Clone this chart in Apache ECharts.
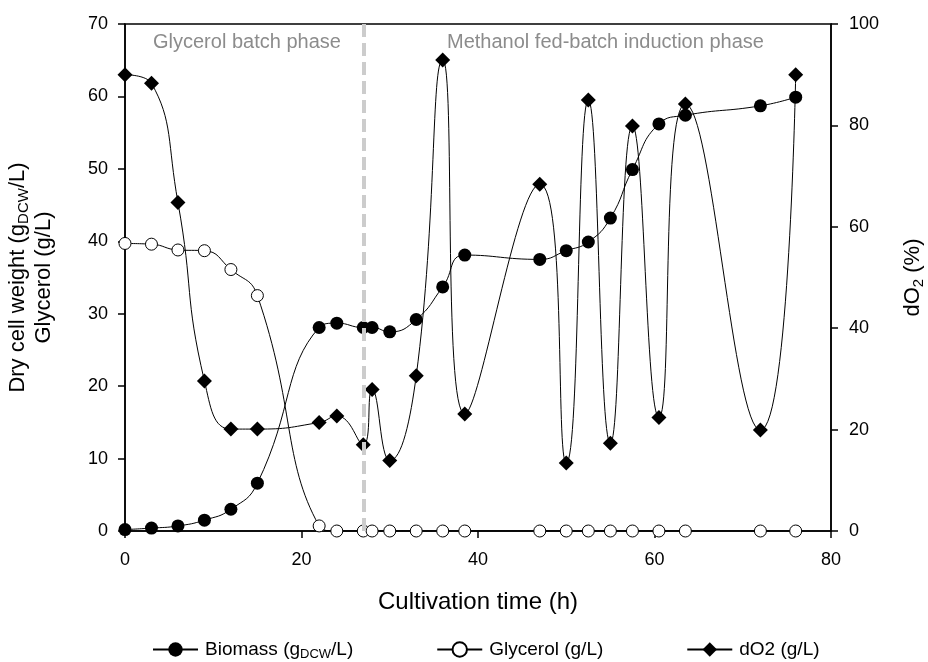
<!DOCTYPE html>
<html>
<head>
<meta charset="utf-8">
<script src="https://cdn.jsdelivr.net/npm/echarts@6/dist/echarts.min.js"></script>
<style>html,body{margin:0;padding:0;background:#fff;}#c{width:928px;height:662px;}</style>
</head>
<body>
<div id="c"></div>
<script>
// Data
var biomassTime = [0, 3, 6, 9, 12, 15, 22, 24, 27, 28, 30, 33, 36, 38.5, 47, 50, 52.5, 55, 57.5, 60.5, 63.5, 72, 76];
var biomassValues = [0.2, 0.4, 0.7, 1.5, 3.0, 6.6, 28.1, 28.7, 28.1, 28.1, 27.5, 29.2, 33.7, 38.1, 37.5, 38.7, 39.9, 43.2, 49.9, 56.2, 57.4, 58.7, 59.9];
var glycerolTime = [0, 3, 6, 9, 12, 15, 22, 24, 27, 28, 30, 33, 36, 38.5, 47, 50, 52.5, 55, 57.5, 60.5, 63.5, 72, 76];
var glycerolValues = [39.7, 39.6, 38.8, 38.7, 36.1, 32.5, 0.7, 0, 0, 0, 0, 0, 0, 0, 0, 0, 0, 0, 0, 0, 0, 0, 0];
var dO2Time = [0, 3, 6, 9, 12, 15, 22, 24, 27, 28, 30, 33, 36, 38.5, 47, 50, 52.5, 55, 57.5, 60.5, 63.5, 72, 76];
var dO2Values = [90, 88.3, 64.8, 29.6, 20.1, 20.1, 21.4, 22.7, 17.0, 27.9, 13.9, 30.6, 92.9, 23.1, 68.4, 13.4, 85.0, 17.3, 79.9, 22.4, 84.2, 19.9, 90];
var phaseSwitchTime = 27;
var xTicks = {min: 0, max: 80, interval: 20};
var yLeftTicks = {min: 0, max: 70, interval: 10};
var yRightTicks = {min: 0, max: 100, interval: 20};

function pairs(xs, ys) { return xs.map(function (x, i) { return [x, ys[i]]; }); }

var FONT = 'Liberation Sans, Arial, sans-serif';
var subRich = {
  a: {fontSize: 22, fontFamily: FONT, color: '#000', lineHeight: 26},
  s: {fontSize: 15, fontFamily: FONT, color: '#000', lineHeight: 14, verticalAlign: 'bottom'}
};
var legendRich = {
  a: {fontSize: 19, fontFamily: FONT, color: '#000', lineHeight: 22},
  s: {fontSize: 13, fontFamily: FONT, color: '#000', lineHeight: 12, verticalAlign: 'bottom'}
};

var chart = echarts.init(document.getElementById('c'), null, {renderer: 'canvas'});
var axisCommon = {
  axisLine: {show: true, lineStyle: {color: '#000', width: 1.5}},
  axisTick: {show: true, inside: false, length: 7, lineStyle: {color: '#000', width: 1.5}},
  splitLine: {show: false}
};

chart.setOption({
  animation: false,
  backgroundColor: '#fff',
  grid: {left: 125, right: 97, top: 24, bottom: 131, outerBoundsMode: 'none', containLabel: false,
    show: true, borderColor: '#000', borderWidth: 1.5, backgroundColor: 'transparent'},
  xAxis: Object.assign({}, axisCommon, {
    type: 'value', min: xTicks.min, max: xTicks.max, interval: xTicks.interval,
    name: 'Cultivation time (h)', nameLocation: 'middle', nameGap: 59,
    nameTextStyle: {fontSize: 24, fontFamily: FONT, color: '#000'},
    axisLabel: {color: '#000', fontSize: 18, fontFamily: FONT, margin: 20}
  }),
  yAxis: [
    Object.assign({}, axisCommon, {
      type: 'value', position: 'left', min: yLeftTicks.min, max: yLeftTicks.max, interval: yLeftTicks.interval,
      name: '{a|Dry cell weight (g}{s|DCW}{a|/L)}\n{a|Glycerol (g/L)}',
      nameLocation: 'middle', nameRotate: 90, nameGap: 68,
      nameTextStyle: {rich: subRich, align: 'center'},
      axisLabel: {color: '#000', fontSize: 18, fontFamily: FONT, margin: 17}
    }),
    Object.assign({}, axisCommon, {
      type: 'value', position: 'right', min: yRightTicks.min, max: yRightTicks.max, interval: yRightTicks.interval,
      name: '{a|dO}{s|2}{a| (%)}',
      nameLocation: 'middle', nameRotate: 90, nameGap: 69,
      nameTextStyle: {rich: subRich},
      axisLabel: {color: '#000', fontSize: 18, fontFamily: FONT, margin: 18}
    })
  ],
  legend: {
    top: 640, left: 152, padding: 0, itemWidth: 45, itemHeight: 18, itemGap: 83,
    data: ['Biomass', 'Glycerol', 'dO2'],
    formatter: function (n) {
      if (n === 'Biomass') return '{a|Biomass (g}{s|DCW}{a|/L)}';
      if (n === 'Glycerol') return '{a|Glycerol (g/L)}';
      return '{a|dO2 (g/L)}';
    },
    textStyle: {rich: legendRich, padding: [0, 0, 0, 2]}
  },
  graphic: [
    {type: 'text', left: 153, top: 32, style: {text: 'Glycerol batch phase', fill: '#8c8c8c', font: '20px ' + FONT}},
    {type: 'text', left: 447, top: 32, style: {text: 'Methanol fed-batch induction phase', fill: '#8c8c8c', font: '20px ' + FONT}}
  ],
  series: [
    {
      name: 'Biomass', type: 'line', yAxisIndex: 0, smooth: true, data: pairs(biomassTime, biomassValues),
      symbol: 'circle', symbolSize: 13, lineStyle: {color: '#000', width: 1}, itemStyle: {color: '#000'}, z: 3
    },
    {
      name: 'Glycerol', type: 'line', yAxisIndex: 0, smooth: true, data: pairs(glycerolTime, glycerolValues),
      symbol: 'circle', symbolSize: 12, showAllSymbol: true,
      lineStyle: {color: '#000', width: 1}, itemStyle: {color: '#fff', borderColor: '#000', borderWidth: 1}, z: 3
    },
    {
      name: 'dO2', type: 'line', yAxisIndex: 1, smooth: true, data: pairs(dO2Time, dO2Values),
      symbol: 'diamond', symbolSize: 15, lineStyle: {color: '#000', width: 1}, itemStyle: {color: '#000'}, z: 3,
      markLine: {
        silent: true, symbol: 'none', label: {show: false}, z: 5,
        lineStyle: {color: '#cccccc', type: [13, 6], width: 4},
        data: [{xAxis: phaseSwitchTime}]
      }
    }
  ]
});
</script>
</body>
</html>
